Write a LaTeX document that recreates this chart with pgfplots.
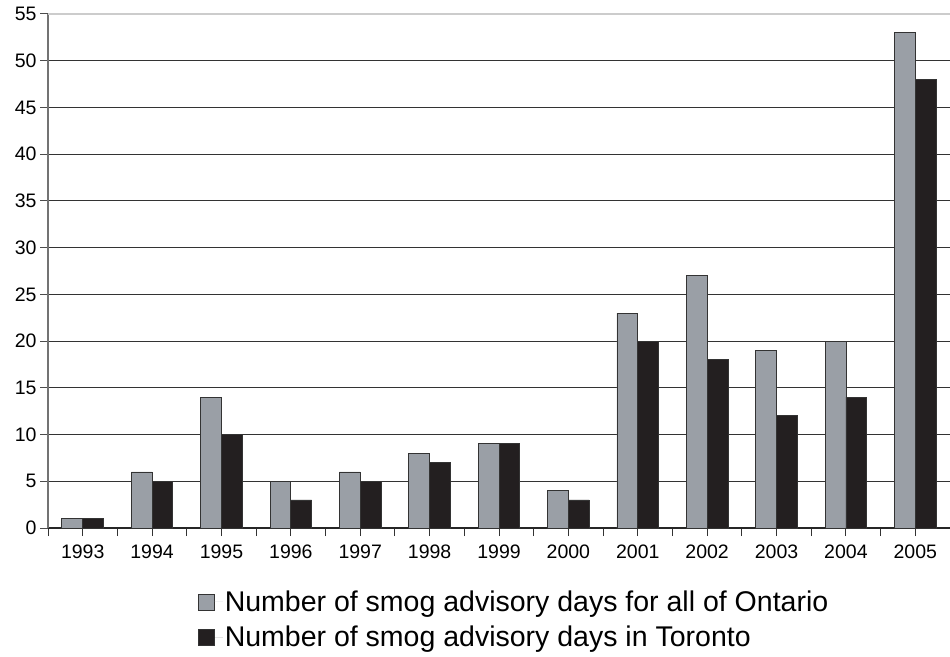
\documentclass[border=0pt]{standalone}
\usepackage{pgfplots}
\pgfplotsset{compat=1.18}
\usepackage{fontspec}
\setmainfont{Liberation Sans}
\definecolor{ongrey}{HTML}{9A9FA6}
\definecolor{toblack}{HTML}{231F20}
\begin{document}
\begin{tikzpicture}
\useasboundingbox (0,0) rectangle (950pt,656pt);
\begin{axis}[
  at={(48pt,128pt)}, anchor=south west,
  scale only axis, width=902pt, height=514pt,
  xmin=-0.5, xmax=12.5, ymin=0, ymax=55,
  axis lines*=left,
  x axis line style={draw=black!85, line width=1.2pt},
  y axis line style={draw=black!55, line width=1.5pt},
  ytick={0,5,...,50},
  extra y ticks={55},
  extra y tick style={grid style={draw=gray!40, line width=1.2pt}},
  ymajorgrids, grid style={draw=black!80, line width=1.1pt},
  tick align=outside, major tick length=8pt,
  y tick style={draw=black!70, line width=1pt},
  xtick={-0.5,0.5,...,12.5},
  xticklabels={},
  x tick style={draw=black!80, line width=1pt},
  extra x ticks={0,...,12},
  extra x tick labels={1993,1994,1995,1996,1997,1998,1999,2000,2001,2002,2003,2004,2005},
  extra x tick style={tick style={draw=none}, xmajorgrids=false},
  xticklabel style={yshift=-5pt},
  tick label style={font=\fontsize{19.5}{22}\selectfont},
  /pgf/number format/assume math mode=true,
  ybar, bar width=0.3,
  legend style={at={(0.517,-0.118)}, anchor=north, draw=none, fill=none,
    font=\fontsize{28.5}{32}\selectfont, row sep=9pt, inner sep=0pt},
  legend cell align=left,
]
\addplot[fill=ongrey, draw=black!80, line width=0.8pt, bar shift=-0.15,
  legend image code/.code={\draw[fill=ongrey, draw=black!80, line width=0.8pt] (0pt,-8pt) rectangle (16pt,8pt); \path[draw=none] (0pt,0pt) -- (24pt,0pt);}]
  coordinates {(0,1) (1,6) (2,14) (3,5) (4,6) (5,8) (6,9) (7,4) (8,23) (9,27) (10,19) (11,20) (12,53)};
\addlegendentry{Number of smog advisory days for all of Ontario}
\addplot[fill=toblack, draw=black!80, line width=0.8pt, bar shift=0.15,
  legend image code/.code={\draw[fill=toblack, draw=black!80, line width=0.8pt] (0pt,-8pt) rectangle (16pt,8pt); \path[draw=none] (0pt,0pt) -- (24pt,0pt);}]
  coordinates {(0,1) (1,5) (2,10) (3,3) (4,5) (5,7) (6,9) (7,3) (8,20) (9,18) (10,12) (11,14) (12,48)};
\addlegendentry{Number of smog advisory days in Toronto}
\end{axis}
\end{tikzpicture}
\end{document}
